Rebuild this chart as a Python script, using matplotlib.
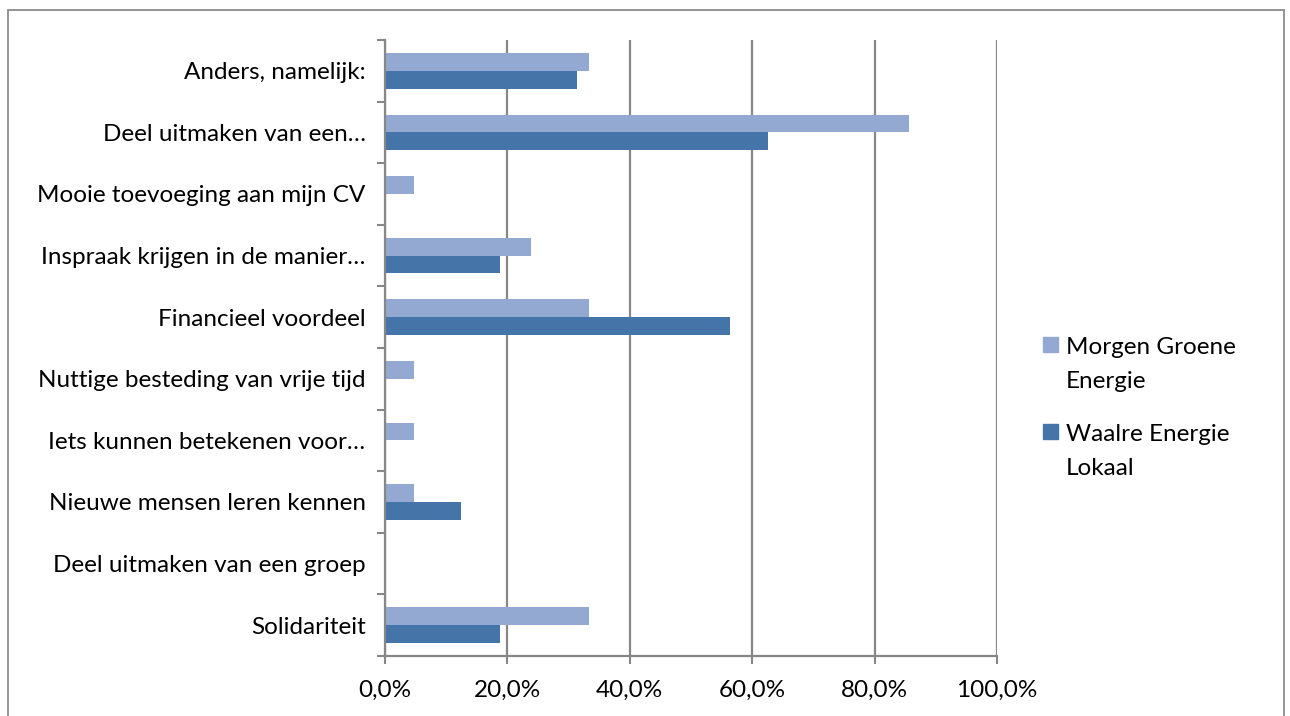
import matplotlib.pyplot as plt
import matplotlib.patches as patches
import numpy as np

# Data (top to bottom, as in the chart)
categories = [
    "Anders, namelijk:",
    "Deel uitmaken van een…",
    "Mooie toevoeging aan mijn CV",
    "Inspraak krijgen in de manier…",
    "Financieel voordeel",
    "Nuttige besteding van vrije tijd",
    "Iets kunnen betekenen voor…",
    "Nieuwe mensen leren kennen",
    "Deel uitmaken van een groep",
    "Solidariteit",
]
morgen_groene = [33.3, 85.7, 4.8, 23.8, 33.3, 4.8, 4.8, 4.8, 0.0, 33.3]
waalre_lokaal = [31.3, 62.5, 0.0, 18.8, 56.3, 0.0, 0.0, 12.5, 0.0, 18.8]
series_names = ["Morgen Groene\nEnergie", "Waalre Energie\nLokaal"]
xticks = [0, 20, 40, 60, 80, 100]

# Style
W, H = 1290, 716
dpi = 100
light = "#94A9D1"
dark = "#4574A8"
gridcolor = "#878787"
fontname = "Lato"
fontsize = 17.5

fig = plt.figure(figsize=(W / dpi, H / dpi), dpi=dpi)
plt.rcParams["font.family"] = [fontname, "DejaVu Sans"]

# outer chart frame
frame = patches.Rectangle(
    (8 / W, -0.05), (1284 - 8) / W, 1.05 - 10 / H,
    transform=fig.transFigure, fill=False, edgecolor="#8c8c8c", linewidth=1.3
)
fig.patches.append(frame)

# plot area in pixels
left, right, top, bottom = 385, 997, 40, 656
ax = fig.add_axes([left / W, (H - bottom) / H, (right - left) / W, (bottom - top) / H])

y = np.arange(len(categories))
bh = 0.29
ax.barh(y - bh / 2, morgen_groene, height=bh, color=light, zorder=3)
ax.barh(y + bh / 2, waalre_lokaal, height=bh, color=dark, zorder=3)

ax.set_ylim(len(categories) - 0.5, -0.5)
ax.set_xlim(0, 100)

ax.set_xticks(xticks)
ax.set_xticklabels([f"{v:.1f}%".replace(".", ",") for v in xticks], fontsize=fontsize)
ax.set_yticks(y)
ax.set_yticklabels(categories, fontsize=fontsize)
ax.set_yticks(np.arange(len(categories) + 1) - 0.5, minor=True)

ax.tick_params(axis="y", which="major", length=0, pad=14)
ax.tick_params(axis="y", which="minor", length=6, width=1.5, color=gridcolor)
ax.tick_params(axis="x", length=6, width=1.5, color=gridcolor, pad=11)

ax.grid(axis="x", color=gridcolor, linewidth=1.6, zorder=0)
for s in ["top", "right"]:
    ax.spines[s].set_visible(False)
for s in ["left", "bottom"]:
    ax.spines[s].set_color(gridcolor)
    ax.spines[s].set_linewidth(1.6)
    ax.spines[s].set_zorder(4)

# legend drawn as in the source chart (marker next to first line)
legend_colors = [light, dark]
legend_y = [345, 432]
for name, col, ly in zip(series_names, legend_colors, legend_y):
    fig.patches.append(patches.Rectangle(
        (1043 / W, 1 - (ly + 7) / H), 15 / W, 15 / H,
        transform=fig.transFigure, color=col))
    fig.text(1066 / W, 1 - (ly - 8) / H, name, fontsize=fontsize,
             va="top", ha="left", linespacing=1.75)

fig.savefig("out.png", dpi=dpi)
